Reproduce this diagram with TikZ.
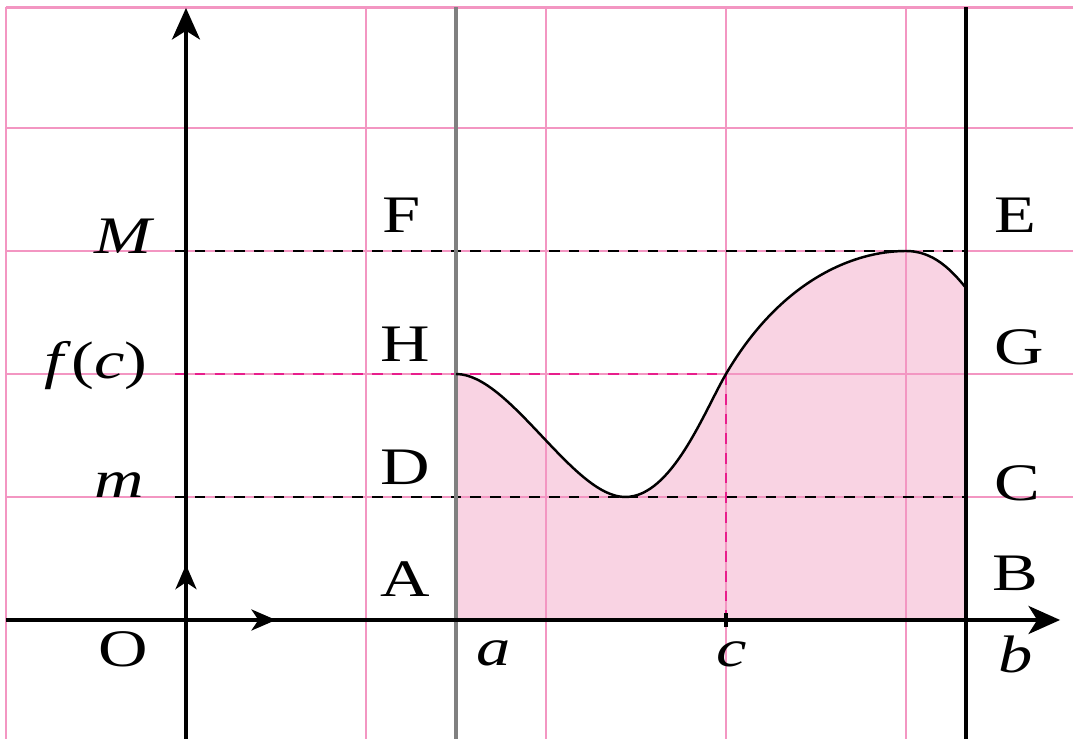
\documentclass[tikz,border=0pt]{standalone}
\usepackage{fontspec}
\setmainfont{Liberation Serif}
\usepackage{graphicx}
\usepackage{tikz}
\usetikzlibrary{arrows.meta}
\definecolor{gridpink}{RGB}{243,150,194}
\definecolor{fillpink}{RGB}{249,211,227}
\definecolor{dashmag}{RGB}{232,30,140}
\newcommand{\stretchx}[1]{\scalebox{1.3}[1]{#1}}
\tikzset{
  grd/.style  ={draw=gridpink, line width=0.6pt},
  axs/.style  ={draw=black, line width=0.9pt},
  dsh/.style  ={draw=black, line width=0.6pt, dash pattern=on 3pt off 2.6pt},
  dshm/.style ={dsh, draw=dashmag},
  lbl/.style  ={font=\fontsize{15}{17}\selectfont, inner sep=0pt},
  ar/.style   ={-{Stealth[length=9pt,width=8pt,inset=2.5pt]}},
  arsm/.style ={-{Stealth[length=7pt,width=6pt,inset=2pt]}},
}
\begin{document}
\begin{tikzpicture}[x=1.8cm, y=1.23cm]
\useasboundingbox (-1.0333,-0.9675) rectangle (4.9278,5.0407);
\coordinate (O) at (0,0);
\coordinate (a) at (1.5,0);
\coordinate (c) at (3,0);
\coordinate (b) at (4.333,0);
\coordinate (Pa) at (1.5,2);
\coordinate (Pmin) at (2.44,1);
\coordinate (Pc) at (3,2);
\coordinate (Pmax) at (4,3);
\coordinate (Pb) at (4.333,2.7);
% area under the curve
\fill[fillpink] (a) -- (Pa) .. controls (1.8,2) and (2.15,1) .. (Pmin)
  .. controls (2.7,1) and (2.88,1.7) .. (Pc)
  .. controls (3.3,2.75) and (3.7,3) .. (Pmax)
  .. controls (4.15,3) and (4.25,2.85) .. (Pb) -- (b) -- cycle;
% grid
\foreach \x in {-1,1,2,3,4} \draw[grd] (\x,-0.9675) -- (\x,4.98);
\foreach \y in {1,2,3,4,4.98} \draw[grd] (-1,\y) -- (4.9278,\y);
% levels m, f(c), M
\draw[dsh] (-0.06,3) -- (4.333,3);
\draw[dsh] (-0.06,1) -- (4.333,1);
\draw[dshm] (-0.06,2) -- (Pc) -- (c);
% x = a, x = b
\draw[draw=gray, line width=1.3pt] (1.5,-0.9675) -- (1.5,4.98);
\draw[axs] (4.333,-0.9675) -- (4.333,4.98);
% axes
\draw[axs, ar] (-1,0) -- (4.856,0);
\draw[axs, ar] (0,-0.9675) -- (0,4.976);
\draw[axs, arsm] (O) -- (0.5,0);
\draw[axs, arsm] (O) -- (0,0.45);
\draw[axs] (3,-0.06) -- (3,0.06);
% curve
\draw[line width=0.7pt] (Pa) .. controls (1.8,2) and (2.15,1) .. (Pmin)
  .. controls (2.7,1) and (2.88,1.7) .. (Pc)
  .. controls (3.3,2.75) and (3.7,3) .. (Pmax)
  .. controls (4.15,3) and (4.25,2.85) .. (Pb);
% labels
\node[lbl] (lM) at (-0.34,3.12) {\stretchx{\textit{M}}};
\node[lbl] (lfc) at (-0.5,2.07) {\stretchx{\textit{f}(\textit{c})}};
\node[lbl] (lm) at (-0.37,1.1) {\stretchx{\textit{m}}};
\node[lbl] (lO) at (-0.35,-0.24) {\stretchx{O}};
\node[lbl] (lF) at (1.2,3.29) {\stretchx{F}};
\node[lbl] (lH) at (1.22,2.24) {\stretchx{H}};
\node[lbl] (lD) at (1.22,1.24) {\stretchx{D}};
\node[lbl] (lA) at (1.22,0.33) {\stretchx{A}};
\node[lbl] (lE) at (4.61,3.29) {\stretchx{E}};
\node[lbl] (lG) at (4.63,2.22) {\stretchx{G}};
\node[lbl] (lC) at (4.62,1.11) {\stretchx{C}};
\node[lbl] (lB) at (4.61,0.38) {\stretchx{B}};
\node[lbl] (la) at (1.71,-0.27) {\stretchx{\textit{a}}};
\node[lbl] (lc) at (3.03,-0.28) {\stretchx{\textit{c}}};
\node[lbl] (lb) at (4.61,-0.28) {\stretchx{\textit{b}}};
\end{tikzpicture}
\end{document}
